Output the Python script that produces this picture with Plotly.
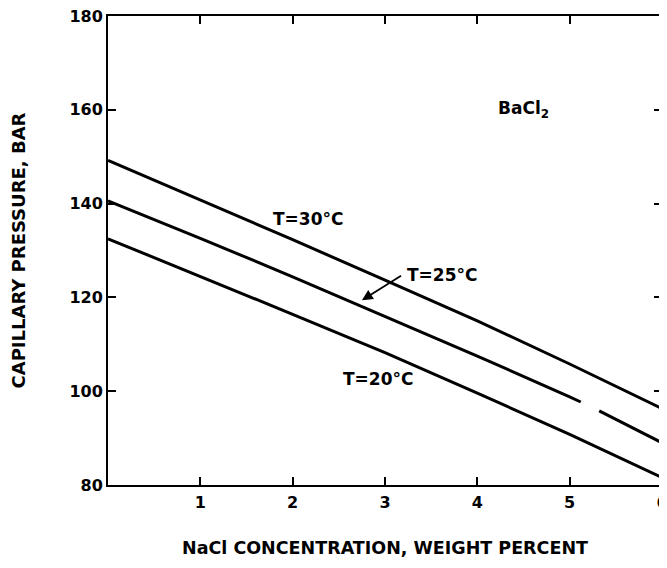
import plotly.graph_objects as go

# NaCl concentration (weight percent)
x_conc = [0, 1, 2, 3, 4, 5, 6]

# Capillary pressure (bar) for each temperature
p_30 = [149.2, 140.8, 132.3, 123.7, 115.0, 105.8, 96.3]
p_20 = [132.5, 124.5, 116.4, 108.2, 99.6, 90.8, 81.6]

# T=25 line is drawn in two pieces (small gap near x≈5.2 in the original)
x_25a = [0, 1, 2, 3, 4, 5, 5.12]
p_25a = [140.6, 132.6, 124.4, 116.0, 107.5, 98.8, 97.7]
x_25b = [5.32, 6]
p_25b = [95.8, 89.0]

y_ticks = [80, 100, 120, 140, 160, 180]
x_ticks = [1, 2, 3, 4, 5, 6]

FONT = "DejaVu Sans"
line_style = dict(color="black", width=3)

fig = go.Figure()
fig.add_trace(go.Scatter(x=x_conc, y=p_30, mode="lines", line=line_style, name="T=30°C"))
fig.add_trace(go.Scatter(x=x_25a + [None] + x_25b, y=p_25a + [None] + p_25b,
                         mode="lines", line=line_style, name="T=25°C", connectgaps=False))
fig.add_trace(go.Scatter(x=x_conc, y=p_20, mode="lines", line=line_style, name="T=20°C"))

ann_font = dict(family=FONT, size=17, color="black", weight="bold")
fig.add_annotation(x=2.17, y=136.8, text="T=30°C", showarrow=False, font=ann_font)
fig.add_annotation(x=3.62, y=124.8, text="T=25°C", showarrow=False, font=ann_font)
fig.add_annotation(x=2.92, y=102.7, text="T=20°C", showarrow=False, font=ann_font)
fig.add_annotation(x=4.2, y=160.0, text="BaCl<sub>2</sub>", showarrow=False,
                   xanchor="left", font=ann_font)
fig.add_annotation(x=2.75, y=119.4, ax=3.19, ay=124.8, axref="x", ayref="y",
                   text="", showarrow=True, arrowhead=2, arrowsize=1.2,
                   arrowwidth=1.8, arrowcolor="black")

axis_common = dict(showline=True, linecolor="black", linewidth=2, mirror="ticks",
                   ticks="inside", ticklen=8, tickwidth=2, tickcolor="black",
                   showgrid=False, zeroline=False, ticklabeloverflow="allow",
                   automargin=False,
                   tickfont=dict(family=FONT, size=16, color="black", weight="bold"))

fig.update_layout(
    width=659, height=552,
    margin=dict(l=100, r=5, t=8, b=75, autoexpand=False),
    paper_bgcolor="white", plot_bgcolor="white",
    showlegend=False,
    xaxis=dict(range=[0, 6], tickvals=x_ticks, ticktext=[str(v) for v in x_ticks],
               title=dict(text="NaCl CONCENTRATION, WEIGHT PERCENT", standoff=31,
                          font=dict(family=FONT, size=17.5, color="black", weight="bold")),
               ticklabelstandoff=2,
               **axis_common),
    yaxis=dict(range=[80, 180], tickvals=y_ticks,
               title=dict(text="CAPILLARY PRESSURE, BAR", standoff=48,
                          font=dict(family=FONT, size=18, color="black", weight="bold")),
               ticklabelstandoff=0,
               **axis_common),
)

fig.write_html("out.html")
